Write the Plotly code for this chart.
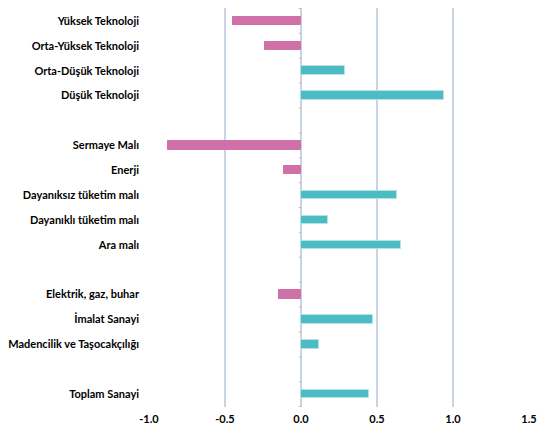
import plotly.graph_objects as go

categories = ["Yüksek Teknoloji", "Orta-Yüksek Teknoloji", "Orta-Düşük Teknoloji", "Düşük Teknoloji", " ",
              "Sermaye Malı", "Enerji", "Dayanıksız tüketim malı", "Dayanıklı tüketim malı", "Ara malı", "  ",
              "Elektrik, gaz, buhar", "İmalat Sanayi", "Madencilik ve Taşocakçılığı", "   ",
              "Toplam Sanayi"]
values = [-0.445, -0.24, 0.29, 0.94, None,
          -0.875, -0.11, 0.63, 0.175, 0.66, None,
          -0.145, 0.475, 0.12, None,
          0.45]
x_ticks = [-1.0, -0.5, 0.0, 0.5, 1.0, 1.5]

NEG = "#D070A8"
POS = "#4BBCC4"
colors = [NEG if (v is not None and v < 0) else POS for v in values]
lines = ["#D070A8" if (v is not None and v < 0) else "#B6E3E7" for v in values]

fig = go.Figure(go.Bar(
    x=values, y=categories, orientation="h",
    marker=dict(color=colors, line=dict(color=lines, width=1)),
    width=0.34,
))

# category boundary tick marks on the zero line
shapes = []
for i in range(len(categories) + 1):
    shapes.append(dict(type="line", xref="x", yref="y", x0=-0.015, x1=0, y0=i - 0.5, y1=i - 0.5,
                       line=dict(color="#BFBFBF", width=1)))
shapes.append(dict(type="line", xref="x", yref="paper", x0=0, x1=0, y0=0, y1=1,
                   line=dict(color="#D9D9D9", width=1.5), layer="below"))

fig.update_layout(
    width=538, height=421,
    margin=dict(l=136, r=17, t=0, b=22),
    paper_bgcolor="white", plot_bgcolor="white",
    showlegend=False,
    font=dict(family="Lato", size=11, color="#000000"),
    shapes=shapes,
    bargap=0,
)
fig.update_xaxes(
    range=[-1.0, 1.5], tickvals=x_ticks, ticktext=[f"{t:.1f}" for t in x_ticks],
    showgrid=True, gridcolor="#C9D3E6", gridwidth=1.5, zeroline=False,
    showline=False, tickfont=dict(family="Lato", size=11, color="#000000", weight="bold"),
    ticks="", ticklabelstandoff=4,
)
fig.update_yaxes(
    categoryorder="array", categoryarray=categories, autorange="reversed",
    showgrid=False, zeroline=False, showline=False, ticks="",
    tickfont=dict(family="Lato", size=11, color="#000000", weight="bold"),
    ticklabelstandoff=9,
)
fig.write_html("out.html")
